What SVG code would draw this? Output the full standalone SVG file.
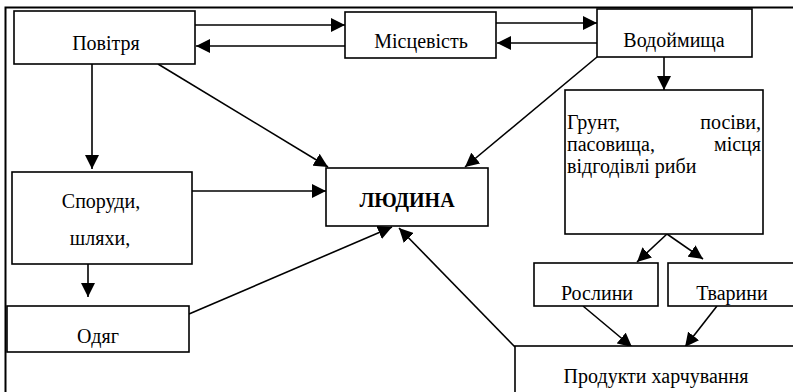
<svg xmlns="http://www.w3.org/2000/svg" width="793" height="392" viewBox="0 0 793 392">
<style>
.box{fill:#fff;stroke:#000;stroke-width:1.6}
text{font-family:'Liberation Serif','Times New Roman',serif;font-size:20px;fill:#000}
.c{text-anchor:middle}
.e{text-anchor:end}
.b{font-weight:bold}
.ln{stroke:#000;stroke-width:1.6;fill:none;marker-end:url(#ah)}
.frame{stroke:#000;stroke-width:2;fill:none}
</style>
<defs>
<marker id="ah" markerUnits="userSpaceOnUse" markerWidth="15" markerHeight="14" refX="14" refY="7" orient="auto">
<path d="M0,0 L14,7 L0,14 z" fill="#000"/>
</marker>
</defs>
<rect width="793" height="392" fill="#fff"/>
<path class="frame" d="M5.5,392 V7.5 H793"/>
<g id="connectors">
<line class="ln" x1="195" y1="25" x2="345" y2="25"/>
<line class="ln" x1="345" y1="46" x2="196" y2="46"/>
<line class="ln" x1="496" y1="23" x2="597" y2="23"/>
<line class="ln" x1="597" y1="43" x2="497" y2="43"/>
<line class="ln" x1="664" y1="57" x2="664" y2="90"/>
<line class="ln" x1="158" y1="64" x2="328" y2="167"/>
<line class="ln" x1="597" y1="57" x2="465" y2="167"/>
<line class="ln" x1="92" y1="64" x2="92" y2="169"/>
<line class="ln" x1="192" y1="191" x2="326" y2="191"/>
<line class="ln" x1="88" y1="264" x2="88" y2="297"/>
<line class="ln" x1="189" y1="314" x2="392" y2="227"/>
<line class="ln" x1="515" y1="347" x2="399" y2="228"/>
<line class="ln" x1="667" y1="234" x2="637" y2="262"/>
<line class="ln" x1="667" y1="234" x2="703" y2="259"/>
<line class="ln" x1="583" y1="306" x2="632" y2="347"/>
<line class="ln" x1="717" y1="306" x2="685" y2="347"/>
</g>
<g id="povitria"><rect class="box" x="14" y="11" width="181" height="53"/><text class="c" x="106" y="50">Повітря</text></g>
<g id="mistsevist"><rect class="box" x="345" y="12" width="151" height="46"/><text class="c" x="421" y="48">Місцевість</text></g>
<g id="vodoimyshcha"><rect class="box" x="597" y="9" width="155" height="48"/><text class="c" x="674" y="47">Водоймища</text></g>
<g id="grunt"><rect class="box" x="565" y="90" width="198" height="144"/>
<text x="567" y="129">Грунт,</text><text class="e" x="761" y="129">посіви,</text>
<text x="567" y="151">пасовища,</text><text class="e" x="761" y="151">місця</text>
<text x="567" y="173">відгодівлі риби</text></g>
<g id="liudyna"><rect class="box" x="326" y="168" width="162" height="58"/><text class="c b" x="407" y="207">ЛЮДИНА</text></g>
<g id="sporudy"><rect class="box" x="12" y="172" width="180" height="92"/><text class="c" x="101" y="208">Споруди,</text><text class="c" x="100" y="245">шляхи,</text></g>
<g id="odiah"><rect class="box" x="7" y="306" width="182" height="46"/><text class="c" x="98" y="343">Одяг</text></g>
<g id="roslyny"><rect class="box" x="534" y="263" width="124" height="43"/><text class="c" x="597" y="300">Рослини</text></g>
<g id="tvaryny"><rect class="box" x="668" y="263" width="140" height="43"/><text class="c" x="732" y="300">Тварини</text></g>
<g id="produkty"><rect class="box" x="515" y="346" width="300" height="60"/><text class="c" x="656" y="383">Продукти харчування</text></g>
</svg>
